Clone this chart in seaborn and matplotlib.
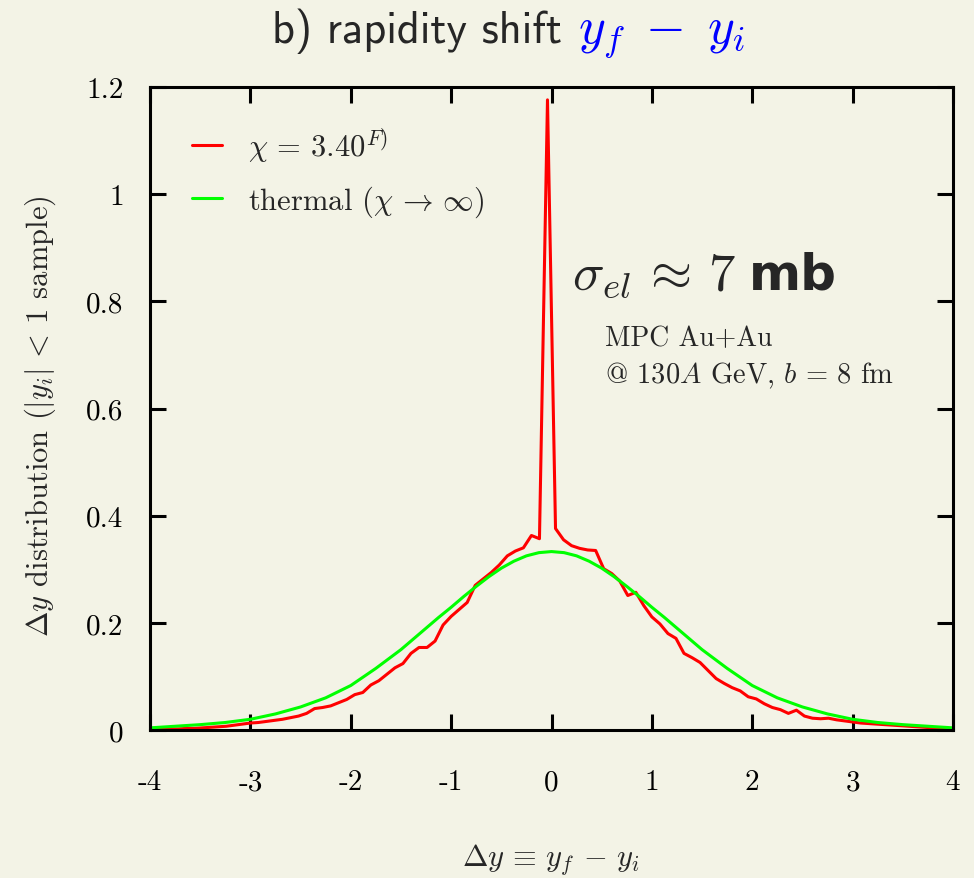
import numpy as np
import pandas as pd
import matplotlib
matplotlib.use("Agg")
import matplotlib.pyplot as plt
import seaborn as sns

# Rapidity-shift histogram (bin width 0.08, centres at -3.96 ... 3.96)
bin_width = 0.08
red_x = [round(-3.96 + bin_width * k, 2) for k in range(100)]
red_y = [
    0.001, 0.001, 0.002, 0.002, 0.003, 0.003, 0.004, 0.005, 0.006, 0.007,
    0.009, 0.011, 0.013, 0.014, 0.016, 0.018, 0.020, 0.023, 0.026, 0.031,
    0.040, 0.042, 0.045, 0.051, 0.057, 0.066, 0.070, 0.084, 0.092, 0.104,
    0.116, 0.124, 0.143, 0.154, 0.154, 0.166, 0.196, 0.212, 0.225, 0.238,
    0.270, 0.282, 0.294, 0.308, 0.325, 0.334, 0.340, 0.363, 0.357, 1.176,
    0.376, 0.355, 0.344, 0.339, 0.336, 0.335, 0.301, 0.292, 0.278, 0.251,
    0.257, 0.232, 0.211, 0.198, 0.180, 0.171, 0.143, 0.135, 0.126, 0.111,
    0.096, 0.087, 0.079, 0.073, 0.062, 0.058, 0.049, 0.042, 0.038, 0.031,
    0.037, 0.026, 0.022, 0.021, 0.022, 0.019, 0.017, 0.015, 0.013, 0.012,
    0.011, 0.010, 0.009, 0.008, 0.007, 0.006, 0.005, 0.004, 0.003, 0.003,
]

# Thermal limit
green_x = [-4.0, -3.75, -3.5, -3.25, -3.0, -2.75, -2.5, -2.25, -2.0, -1.75,
           -1.5, -1.375, -1.25, -1.125, -1.0, -0.875, -0.75, -0.625, -0.5,
           -0.375, -0.25, -0.125, 0.0, 0.125, 0.25, 0.375, 0.5, 0.625, 0.75,
           0.875, 1.0, 1.125, 1.25, 1.375, 1.5, 1.75, 2.0, 2.25, 2.5, 2.75,
           3.0, 3.25, 3.5, 3.75, 4.0]
green_y = [0.004, 0.007, 0.010, 0.014, 0.020, 0.030, 0.043, 0.060, 0.083, 0.115,
           0.150, 0.170, 0.190, 0.210, 0.229, 0.249, 0.268, 0.286, 0.302,
           0.315, 0.325, 0.331, 0.333, 0.331, 0.325, 0.315, 0.302, 0.286, 0.268,
           0.249, 0.229, 0.210, 0.190, 0.170, 0.150, 0.115, 0.083, 0.060, 0.043, 0.030,
           0.020, 0.014, 0.010, 0.007, 0.004]

x_ticks = [-4, -3, -2, -1, 0, 1, 2, 3, 4]
x_tick_labels = ["-4", "-3", "-2", "-1", "0", "1", "2", "3", "4"]
y_ticks = [0, 0.2, 0.4, 0.6, 0.8, 1.0, 1.2]
y_tick_labels = ["0", "0.2", "0.4", "0.6", "0.8", "1", "1.2"]

label_red = r"$\chi\,=\,3.40^{F)}$"
label_green = r"thermal $(\chi\,\rightarrow\,\infty)$"

bg = "#f3f3e6"
sns.set_theme(style="ticks")
plt.rcParams["font.family"] = ["cmr10", "DejaVu Serif"]
plt.rcParams["mathtext.fontset"] = "cm"
plt.rcParams["axes.unicode_minus"] = False
plt.rcParams["axes.formatter.use_mathtext"] = True

W, H = 974, 879
fig = plt.figure(figsize=(W / 100, H / 100), dpi=100, facecolor=bg)
ax = fig.add_axes([150 / W, 1 - 731 / H, (953 - 150) / W, (731 - 88) / H])
ax.set_facecolor(bg)

df_red = pd.DataFrame({"dy": red_x, "dist": red_y})
df_green = pd.DataFrame({"dy": green_x, "dist": green_y})
sns.lineplot(data=df_red, x="dy", y="dist", ax=ax, color="#ff0000",
             linewidth=2.2, label=label_red, sort=False)
sns.lineplot(data=df_green, x="dy", y="dist", ax=ax, color="#00ff00",
             linewidth=2.2, label=label_green, sort=False)

ax.set_xlim(-4, 4)
ax.set_ylim(0, 1.2)
ax.set_xticks(x_ticks)
ax.set_xticklabels(x_tick_labels)
ax.set_yticks(y_ticks)
ax.set_yticklabels(y_tick_labels)
ax.set_xlabel("")
ax.set_ylabel("")
for s in ax.spines.values():
    s.set_visible(True)
    s.set_linewidth(2.2)
    s.set_color("black")
ax.tick_params(direction="in", length=11.5, width=2.2, top=True, right=True,
               labelsize=21, colors="black")
ax.tick_params(axis="x", pad=28)
ax.tick_params(axis="y", pad=19)

leg = ax.legend(loc="upper left", frameon=False, fontsize=22,
                handlelength=1.0, handletextpad=0.85, labelspacing=0.62,
                borderaxespad=0.0, bbox_to_anchor=(0.037, 0.96))
for line in leg.get_lines():
    line.set_linewidth(2.2)

# Axis titles
fig.text(551 / W, 1 - 866 / H, r"$\Delta y\,\equiv\,y_f\,-\,y_i$", fontsize=22,
         ha="center", va="baseline")
fig.text(40 / W, 1 - 416 / H,
         r"$\Delta y$ distribution $(|y_i|\,<\,1$ sample$)$",
         fontsize=22, rotation=90, ha="center", va="center")

# Title: sans text followed by the blue formula
t1 = fig.text(272 / W, 1 - 43 / H, "b) rapidity shift", fontfamily="cmss10",
              fontsize=32, va="baseline", ha="left")
fig.canvas.draw()
bb = t1.get_window_extent()
fig.text((bb.x1 + 16) / W, 1 - 43 / H, r"$y_f\;-\;y_i$", fontsize=37,
         color="#0000ff", va="baseline", ha="left")

# Cross-section annotation
s1 = fig.text(572 / W, 1 - 290 / H, r"$\sigma_{el}\,\approx\,7$", fontsize=38,
              va="baseline", ha="left")
fig.canvas.draw()
bb2 = s1.get_window_extent()
fig.text((bb2.x1 + 13) / W, 1 - 290 / H, "mb", fontfamily="DejaVu Sans",
         fontweight="bold", fontsize=36, va="baseline", ha="left")
fig.text(605 / W, 1 - 346 / H, "MPC Au+Au", fontsize=20, va="baseline", ha="left")
fig.text(605 / W, 1 - 383 / H, r"@ 130$A$ GeV, $b\,=\,8$ fm", fontsize=20.5,
         va="baseline", ha="left")

fig.savefig("out.png", dpi=100, facecolor=bg)
